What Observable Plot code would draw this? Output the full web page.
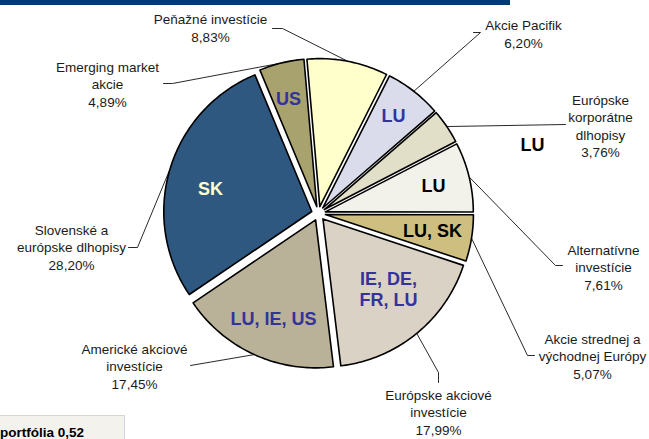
<!DOCTYPE html>
<html><head><meta charset="utf-8">
<script src="https://cdn.jsdelivr.net/npm/d3@7"></script>
<script src="https://cdn.jsdelivr.net/npm/@observablehq/plot@0.6"></script>
<style>
html,body{margin:0;padding:0;background:#fff;overflow:hidden;}
#wrap{position:relative;width:649px;height:439px;overflow:hidden;font-family:"Liberation Sans",Arial,sans-serif;}
#chart{position:absolute;left:0;top:0;}
#bar{position:absolute;left:0;top:0;width:510px;height:5px;background:#003A70;}
#box{position:absolute;left:-2px;top:415px;width:127px;height:40px;background:#F3F2EC;border:1px solid #D3D6DE;box-sizing:border-box;}
#dur{position:absolute;left:0px;top:425px;font-weight:bold;font-size:13.5px;line-height:16px;color:#000;white-space:nowrap;}
</style>
</head><body>
<div id="wrap">
  <div id="box"></div>
  <div id="dur">portfólia 0,52</div>
  <div id="chart"></div>
  <div id="bar"></div>
</div>
<script>
// ---- data ----
const categories = ["Peňažné investície","Akcie Pacifik","Európske korporátne dlhopisy","Alternatívne investície","Akcie strednej a východnej Európy","Európske akciové investície","Americké akciové investície","Slovenské a európske dlhopisy","Emerging market akcie"];
const labelTexts = ["Peňažné investície","Akcie Pacifik","Európske\nkorporátne\ndlhopisy","Alternatívne\ninvestície","Akcie strednej a\nvýchodnej Európy","Európske akciové\ninvestície","Americké akciové\ninvestície","Slovenské a\neurópske dlhopisy","Emerging market\nakcie"];
const shares = [8.83, 6.20, 3.76, 7.61, 5.07, 17.99, 17.45, 28.20, 4.89];
const domiciles = ["", "LU", "LU", "LU", "LU, SK", "IE, DE,\nFR, LU", "LU, IE, US", "SK", "US"];

// ---- styles / layout ----
const sliceColors = ["#FFFFCC","#DADCEC","#E2DFC8","#F2F1EA","#CEBF80","#DAD2C5","#B9B198","#2F5880","#A8A26F"];
const domicileColors = ["#333399","#333399","#000000","#000000","#000000","#333399","#333399","#FFFFCC","#333399"];
const CX = 318, CY = 213, R = 148, EXPLODE = 7, START = -5 * Math.PI / 180;
const labelPos = [[210,27],[523,33],[600,125],[603,266],[592,355],[438,411],[134,365],[71,246],[107,83]];
const leaderVia = [[[282,28],[272,28]], [[480,32],[473,32]], [[565,124]], [[555,265],[562,265]], [[527,355],[534,355]], [[438,372],[438,382]], [[190,365]], [[137,247],[128,247]], [[172,83],[163,83]]];
const domicilePos = [null,[393,115],[532,144],[433,185],[432,230],[388,288],[273,318],[210,188],[288,98]];

const fmt = v => d3.format(".2f")(v).replace(".", ",") + "%";
const pt = (a, r, ox = 0, oy = 0) => [CX + ox + r * Math.sin(a), CY + oy - r * Math.cos(a)];

const arcs = d3.pie().sort(null).value(d => d).startAngle(START).endAngle(START + 2 * Math.PI)(shares);

const slicePts = [];
const leaderPts = [];
arcs.forEach((a, i) => {
  const mid = (a.startAngle + a.endAngle) / 2;
  const ox = EXPLODE * Math.sin(mid), oy = -EXPLODE * Math.cos(mid);
  const name = categories[i];
  slicePts.push({name, x: CX + ox, y: CY + oy});
  const n = Math.max(2, Math.ceil((a.endAngle - a.startAngle) / (Math.PI / 180)));
  for (let k = 0; k <= n; k++) {
    const ang = a.startAngle + (a.endAngle - a.startAngle) * k / n;
    const [x, y] = pt(ang, R, ox, oy);
    slicePts.push({name, x, y});
  }
  const [ex, ey] = pt(mid, R, ox, oy);
  leaderPts.push({name, x: ex, y: ey});
  leaderVia[i].forEach(([x, y]) => leaderPts.push({name, x, y}));
});

const labels = categories.map((c, i) => ({
  text: labelTexts[i] + "\n" + fmt(shares[i]), x: labelPos[i][0], y: labelPos[i][1]
}));
const doms = domiciles.map((t, i) => ({text: t, color: domicileColors[i], pos: domicilePos[i]}))
  .filter(d => d.text && d.pos)
  .map(d => ({text: d.text, color: d.color, x: d.pos[0], y: d.pos[1]}));
const domColors = [...new Set(doms.map(d => d.color))];

const chart = Plot.plot({
  width: 649, height: 439, margin: 0,
  style: {fontFamily: '"Liberation Sans", Arial, sans-serif', fontSize: "13.5px", background: "transparent", overflow: "visible"},
  x: {domain: [0, 649], range: [0, 649], axis: null},
  y: {domain: [0, 439], range: [0, 439], axis: null},
  color: {domain: categories, range: sliceColors},
  marks: [
    Plot.line(leaderPts, {x: "x", y: "y", z: "name", stroke: "#111", strokeWidth: 0.9}),
    Plot.line(slicePts, {x: "x", y: "y", z: "name", fill: "name", stroke: "#000", strokeWidth: 1.6, curve: "linear-closed", strokeLinejoin: "round"}),
    Plot.text(labels, {x: "x", y: "y", text: "text", fontSize: 13.5, lineHeight: 1.3, fill: "#1a1a1a"}),
    ...domColors.map(c => Plot.text(doms.filter(d => d.color === c), {x: "x", y: "y", text: "text", fontSize: 18, fontWeight: "bold", lineHeight: 1.2, fill: c}))
  ]
});
document.getElementById("chart").appendChild(chart);
</script>
</body></html>
